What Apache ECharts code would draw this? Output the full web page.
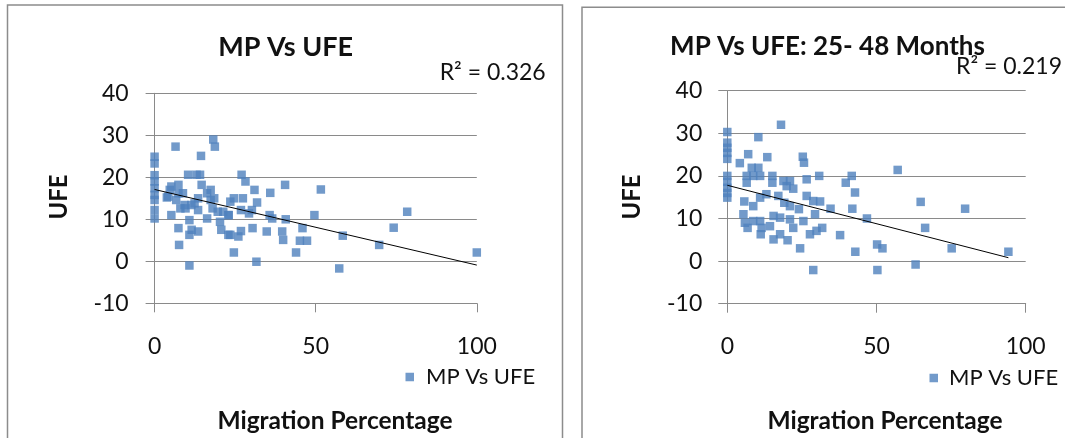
<!DOCTYPE html>
<html><head><meta charset="utf-8">
<script src="https://cdn.jsdelivr.net/npm/echarts@6/dist/echarts.min.js"></script>
<style>html,body{margin:0;padding:0;background:#fff}#c{width:1065px;height:438px}</style>
</head><body><div id="c"></div>
<script>
// ---- data ----
const xRange = [0, 100];
const xStep = 50;
const yRange = [-10, 40];
const yStep = 10;
const seriesName = 'MP Vs UFE';
const chartTitles = ['MP Vs UFE', 'MP Vs UFE: 25- 48 Months'];
const rSquared = ['0.326', '0.219'];
const xAxisTitle = 'Migration Percentage';
const yAxisTitle = 'UFE';

const leftPoints = [
  [0,24.9],[0,23.3],[0,20.5],[0,19],[0,17.4],[0,15.8],[0,14.6],[0,12.2],[0,10.2],
  [6.5,27.3],[18.2,29],[18.7,27.3],[14.4,25.1],
  [10.4,20.6],[13,20.6],[14.1,20.6],[27,20.6],[28.2,19],
  [3.8,15.2],[4.7,17],[5.2,17.8],[7.4,18.2],[7.4,16.2],[8.8,16.2],[6.7,14.6],[4.2,15.4],
  [5.2,11],[8,12.6],[9.6,12.6],[7.4,7.9],[7.6,3.9],[10.8,-1],
  [10.8,9.8],[11.5,7.5],[10.8,6.3],[13.5,7.1],[12.4,13.8],[13.5,12.2],[13.5,15],[11.4,13.4],[9.3,13.4],
  [14.6,18.2],[16.3,16.2],[17.4,17],[17.4,14.6],[16.3,10.2],[18.5,15],[18,12.6],[19.6,11.8],
  [20.3,9.4],[20.7,7.5],[23,11],[23.5,14.2],[24.6,15],[24.6,2.1],[23.5,6.3],[26,5.9],[26.8,7.2],
  [21.3,11.8],[22.9,11],[22.9,6.3],
  [26.8,12.2],[27.4,15],[29.3,11.4],[30.2,12.2],[30.4,7.9],[31,17],[31.8,14],[31.6,-0.1],
  [35.9,16.3],[34.8,7.1],[35.7,11],[36.5,10.2],[39.6,7.1],[39.9,5.1],[40.5,18.2],[40.7,10],
  [43.9,2.1],[45.9,7.9],[45.1,4.9],[47.3,4.9],[49.6,11],[51.6,17.1],[57.3,-1.7],[58.4,6.1],
  [69.7,3.9],[74.2,8],[78.4,11.8],[100,2.1]
];
const rightPoints = [
  [0,30.3],[0,27.8],[0,26.6],[0,25.4],[0,24],[0,20],[0,18.6],[0,17.2],[0,16],[0,14.9],
  [18,32],[10.4,29.1],[7,25.1],[13.4,24.4],[4.2,23],[25.3,24.5],[25.7,23.1],
  [8.2,21.9],[10.4,21.9],[6.5,20],[8.7,20],[11,20],[6.5,18.4],[15.1,20],[15.1,18.4],
  [18.8,18.8],[21,18.8],[19.9,17.6],[22.1,17],[26.6,19.2],[30.8,20],[39.7,18.4],[41.7,20],[42.8,16.1],[57.1,21.4],
  [5.7,14],[8.7,12.9],[11,14.9],[13.1,15.7],[17.1,15.3],[19.1,13.7],[21,12.9],[24,12.2],[26.6,15.3],
  [28.8,14.1],[31.1,14],[34.6,12.3],[41.9,12.3],
  [5.4,11],[5.9,9],[6.8,7.8],[8.7,9.4],[11,9.4],[11.2,6.3],[11.5,7.8],[14.3,8.2],[15.5,10.6],[15.5,5.1],
  [17.7,6.3],[17.7,10.2],[20.2,4.9],[21,9.8],[22.1,7.8],[25.5,9.4],[27.7,6.3],[29.4,11],[29.9,7.1],[31.8,7.8],
  [24.4,3],[28.8,-2.1],[37.8,6.1],[46.8,10],[42.9,2.2],[50.2,3.9],[52,3],[50.3,-2.1],
  [63.1,-0.8],[64.8,13.9],[66.3,7.8],[75.2,3],[79.7,12.3],[94.2,2.2]
];
const leftTrend = [[0,17.1],[100,-0.9]];
const rightTrend = [[0,17.8],[94.2,0.8]];

// ---- styling / layout ----
const FONT = 'Lato';
const GRID_COLOR = '#8a8a8a';
const MARK = '#4F81BD';
const TICK_FS = 23;

function xAx(idx, margin) {
  return {
    type: 'value', gridIndex: idx, min: xRange[0], max: xRange[1], interval: xStep,
    axisLine: {show: true, onZero: false, lineStyle: {color: GRID_COLOR, width: 1}},
    axisTick: {show: true, length: 9, lineStyle: {color: GRID_COLOR}},
    axisLabel: {margin: margin, fontFamily: FONT, fontSize: TICK_FS, color: '#111'},
    splitLine: {show: false}
  };
}
function yAx(idx, margin) {
  return {
    type: 'value', gridIndex: idx, min: yRange[0], max: yRange[1], interval: yStep,
    axisLine: {show: true, onZero: false, lineStyle: {color: GRID_COLOR, width: 1}},
    axisTick: {show: true, length: 9, lineStyle: {color: GRID_COLOR}},
    axisLabel: {margin: margin, fontFamily: FONT, fontSize: TICK_FS, color: '#111'},
    splitLine: {show: true, lineStyle: {color: GRID_COLOR, width: 1}}
  };
}
function txt(x, y, text, size, bold, align, rot) {
  return {
    type: 'text', x: x, y: y, rotation: rot || 0, silent: true,
    style: {text: text, fontFamily: FONT, fontSize: size, fontWeight: bold ? 'bold' : 'normal',
            fill: '#111', align: align || 'center', verticalAlign: 'middle'}
  };
}

const chart = echarts.init(document.getElementById('c'), null, {renderer: 'canvas'});
chart.setOption({
  animation: false,
  backgroundColor: '#fff',
  grid: [
    {left: 154.6, top: 93.3, width: 322.2, height: 210},
    {left: 727.3, top: 90.7, width: 298.4, height: 213}
  ],
  xAxis: [xAx(0, 32), xAx(1, 31)],
  yAxis: [yAx(0, 26), yAx(1, 25)],
  legend: [
    {data: [seriesName], left: 405.5, top: 366, padding: 0, itemWidth: 8.5, itemHeight: 8.5, icon: 'rect',
     textStyle: {fontFamily: FONT, fontSize: 22, color: '#111', padding: [0,0,0,7]}},
    {data: [seriesName], left: 929.5, top: 367, padding: 0, itemWidth: 8.5, itemHeight: 8.5, icon: 'rect',
     textStyle: {fontFamily: FONT, fontSize: 22, color: '#111', padding: [0,0,0,6]}}
  ],
  series: [
    {name: seriesName, type: 'scatter', xAxisIndex: 0, yAxisIndex: 0, data: leftPoints,
     symbol: 'rect', symbolSize: 8.5, itemStyle: {color: MARK}},
    {name: 'trendL', type: 'line', xAxisIndex: 0, yAxisIndex: 0, data: leftTrend,
     symbol: 'none', lineStyle: {color: '#000', width: 1}},
    {name: seriesName, type: 'scatter', xAxisIndex: 1, yAxisIndex: 1, data: rightPoints,
     symbol: 'rect', symbolSize: 8.5, itemStyle: {color: MARK}},
    {name: 'trendR', type: 'line', xAxisIndex: 1, yAxisIndex: 1, data: rightTrend,
     symbol: 'none', lineStyle: {color: '#000', width: 1}}
  ],
  graphic: [
    {type: 'rect', silent: true, shape: {x: 7.5, y: 5, width: 555, height: 445},
     style: {fill: 'none', stroke: '#8c8c8c', lineWidth: 1.5}},
    {type: 'rect', silent: true, shape: {x: 582, y: 7.3, width: 500, height: 445},
     style: {fill: 'none', stroke: '#8c8c8c', lineWidth: 1.5}},
    txt(285.7, 47, chartTitles[0], 27, true),
    txt(827.5, 47, chartTitles[1], 26, true),
    txt(545.7, 72.7, 'R² = ' + rSquared[0], 23, false, 'right'),
    txt(1062, 66.7, 'R² = ' + rSquared[1], 23, false, 'right'),
    txt(59, 197, yAxisTitle, 24, true, 'center', Math.PI / 2),
    txt(632.7, 197, yAxisTitle, 24, true, 'center', Math.PI / 2),
    txt(335, 421, xAxisTitle, 24.5, true),
    txt(885, 421, xAxisTitle, 24.5, true)
  ]
});
</script></body></html>
